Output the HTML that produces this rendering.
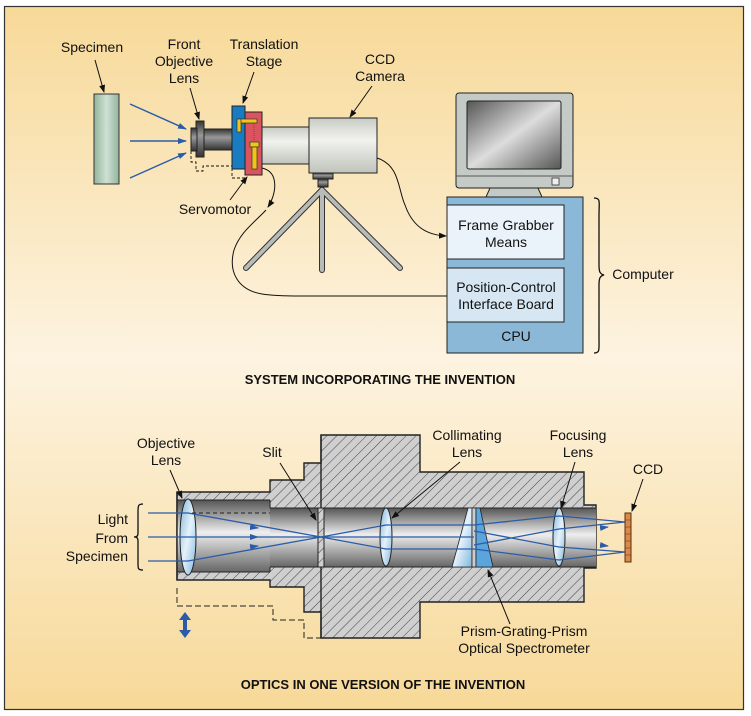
<!DOCTYPE html>
<html><head><meta charset="utf-8"><style>
html,body{margin:0;padding:0;background:#fff;}
svg{display:block;font-family:"Liberation Sans",sans-serif;}
</style></head><body>
<svg width="751" height="716" viewBox="0 0 751 716" xmlns="http://www.w3.org/2000/svg">
<defs>
<linearGradient id="bg" x1="0" y1="0" x2="0" y2="1">
<stop offset="0" stop-color="#f7d998"/><stop offset="0.5" stop-color="#fdf3e0"/><stop offset="1" stop-color="#f7d998"/>
</linearGradient>
<linearGradient id="spec" x1="0" y1="0" x2="1" y2="0">
<stop offset="0" stop-color="#93b59c"/><stop offset="0.5" stop-color="#cfe0d4"/><stop offset="1" stop-color="#93b59c"/>
</linearGradient>
<linearGradient id="metal" x1="0" y1="0" x2="0" y2="1">
<stop offset="0" stop-color="#555"/><stop offset="0.45" stop-color="#eee"/><stop offset="1" stop-color="#666"/>
</linearGradient>
<linearGradient id="dark" x1="0" y1="0" x2="0" y2="1">
<stop offset="0" stop-color="#333"/><stop offset="0.4" stop-color="#999"/><stop offset="1" stop-color="#333"/>
</linearGradient>
<linearGradient id="light" x1="0" y1="0" x2="0" y2="1">
<stop offset="0" stop-color="#c8ccc4"/><stop offset="0.4" stop-color="#f2f2ee"/><stop offset="1" stop-color="#c0c4bc"/>
</linearGradient>
<linearGradient id="screen" x1="0" y1="0" x2="1" y2="1">
<stop offset="0" stop-color="#555"/><stop offset="0.5" stop-color="#ddd"/><stop offset="1" stop-color="#555"/>
</linearGradient>
<linearGradient id="lens" x1="0" y1="0" x2="1" y2="1">
<stop offset="0" stop-color="#7fb6dc"/><stop offset="0.5" stop-color="#e6f2fb"/><stop offset="1" stop-color="#7fb6dc"/>
</linearGradient>
<pattern id="hatch" width="7" height="7" patternUnits="userSpaceOnUse" patternTransform="rotate(45)">
<rect width="7" height="7" fill="#cfcfcf"/><line x1="0" y1="0" x2="0" y2="7" stroke="#444" stroke-width="1"/>
</pattern>
<marker id="ah" markerWidth="8" markerHeight="8" refX="7" refY="4" orient="auto" markerUnits="userSpaceOnUse"><path d="M0,1 L8,4 L0,7 z" fill="#111"/></marker>
<marker id="bh" markerWidth="9" markerHeight="8" refX="8" refY="4" orient="auto" markerUnits="userSpaceOnUse"><path d="M0,1 L9,4 L0,7 z" fill="#2b5ca8"/></marker>
</defs>
<rect x="4.5" y="6.5" width="739" height="703" fill="url(#bg)" stroke="#333" stroke-width="1.2"/>

<g font-size="14" fill="#111" text-anchor="middle">
<text x="92" y="52">Specimen</text>
<text x="184" y="49">Front</text><text x="184" y="66">Objective</text><text x="184" y="83">Lens</text>
<text x="264" y="49">Translation</text><text x="264" y="66">Stage</text>
<text x="380" y="64">CCD</text><text x="380" y="81">Camera</text>
<text x="215" y="214">Servomotor</text>
</g>
<g stroke="#111" stroke-width="1" fill="none" marker-end="url(#ah)">
<line x1="95" y1="60" x2="104" y2="92"/>
<line x1="190" y1="88" x2="199" y2="119"/>
<line x1="254" y1="72" x2="243" y2="103"/>
<line x1="372" y1="86" x2="350" y2="117"/>
<line x1="230" y1="200" x2="247" y2="177"/>
</g>
<rect x="94" y="94" width="25" height="90" fill="url(#spec)" stroke="#333"/>
<g stroke="#2b5ca8" stroke-width="1.5" marker-end="url(#bh)">
<line x1="130" y1="104" x2="186" y2="129"/>
<line x1="130" y1="141" x2="186" y2="141"/>
<line x1="130" y1="178" x2="186" y2="153"/>
</g>
<g stroke="#111" stroke-width="0.9" fill="none" stroke-dasharray="3,2">
<path d="M191,151 V162 H196 V171 H203 V166 H233"/>
<path d="M203,143 H232"/>
<path d="M232,168 V178 H245"/>
</g>
<rect x="203" y="129" width="30" height="21" fill="url(#dark)" stroke="#222"/>
<rect x="196" y="121" width="8" height="36" fill="url(#dark)" stroke="#222"/>
<rect x="191" y="128" width="6" height="23" fill="url(#dark)" stroke="#222"/>
<rect x="261" y="127" width="50" height="37" fill="url(#light)" stroke="#222"/>
<rect x="232" y="106" width="13" height="63" fill="#1a7cc0" stroke="#222"/>
<rect x="245" y="112" width="17" height="63" fill="#d9545f" stroke="#222"/>
<g fill="#f2c417" stroke="#333" stroke-width="0.7">
<rect x="237" y="119" width="20" height="4"/><rect x="237" y="119" width="4" height="13"/>
<rect x="250" y="142" width="9" height="5"/><rect x="252" y="147" width="5" height="22"/>
</g>
<line x1="254" y1="123" x2="254" y2="142" stroke="#555" stroke-dasharray="1,1"/>
<rect x="309" y="118" width="68" height="55" fill="url(#light)" stroke="#222"/>
<rect x="313" y="173" width="20" height="6" fill="url(#dark)" stroke="#222"/>
<rect x="318" y="179" width="10" height="8" fill="url(#dark)" stroke="#222"/>
<g stroke="#333" stroke-width="6" stroke-linecap="round">
<line x1="322" y1="190" x2="246" y2="268"/><line x1="322" y1="190" x2="322" y2="270"/><line x1="322" y1="190" x2="400" y2="268"/>
</g>
<g stroke="#b8bcb8" stroke-width="4" stroke-linecap="round">
<line x1="322" y1="190" x2="246" y2="268"/><line x1="322" y1="190" x2="322" y2="270"/><line x1="322" y1="190" x2="400" y2="268"/>
</g>
<path d="M377,158 C400,165 398,190 405,205 C412,225 425,235 446,236" fill="none" stroke="#111" stroke-width="1" marker-end="url(#ah)"/>
<path d="M262,168 C280,172 276,195 268,207" fill="none" stroke="#111" stroke-width="1" marker-end="url(#ah)"/>
<path d="M266,210 C255,222 240,232 234,250 C228,272 238,290 262,294 C275,296 290,296 300,296 L447,296" fill="none" stroke="#111" stroke-width="1"/>
<path d="M490,188 L538,188 L542,197 L486,197 Z" fill="#c4cbc6" stroke="#222"/>
<rect x="456" y="93" width="117" height="95" rx="3" fill="#c4cbc6" stroke="#222"/>
<rect x="467" y="101" width="94" height="68" rx="2" fill="url(#screen)" stroke="#222"/>
<line x1="456" y1="176" x2="573" y2="176" stroke="#555"/>
<rect x="552" y="178" width="7" height="7" fill="#eee" stroke="#333" stroke-width="0.8"/>
<rect x="447" y="197" width="136" height="156" fill="#8ab8d6" stroke="#222"/>
<rect x="447" y="205" width="117" height="54" fill="#eaf3fa" stroke="#222"/>
<rect x="447" y="268" width="117" height="54" fill="#d6e7f3" stroke="#222"/>
<g font-size="14" fill="#111" text-anchor="middle">
<text x="506" y="230">Frame Grabber</text><text x="506" y="247">Means</text>
<text x="506" y="292">Position-Control</text><text x="506" y="309">Interface Board</text>
<text x="516" y="341">CPU</text>
<text x="643" y="279">Computer</text>
</g>
<path d="M594,198 C601,198 599,202 599,215 L599,265 C599,272 600,274 604,275 C600,276 599,278 599,285 L599,338 C599,350 600,353 594,353" fill="none" stroke="#111" stroke-width="1.3"/>
<text x="380" y="384" font-size="13" font-weight="bold" text-anchor="middle" fill="#111">SYSTEM INCORPORATING THE INVENTION</text>

<path d="M177,492 H270 V480 H304 V463 H321 V435 H420 V472 H584 V505 H596 V568 H584 V602 H420 V638 H321 V612 H304 V587 H270 V580 H177 Z" fill="url(#hatch)" stroke="#222" stroke-width="1.4"/>
<line x1="321" y1="435" x2="321" y2="638" stroke="#222" stroke-width="1.4"/>
<rect x="177" y="500" width="93" height="72" fill="url(#metal)"/>
<rect x="270" y="508" width="48" height="59" fill="url(#metal)"/>
<rect x="324" y="508" width="272" height="59" fill="url(#metal)"/>
<line x1="177" y1="500" x2="270" y2="500" stroke="#222"/><line x1="177" y1="572" x2="270" y2="572" stroke="#222"/>
<line x1="270" y1="500" x2="270" y2="508" stroke="#222"/><line x1="270" y1="572" x2="270" y2="567" stroke="#222"/>
<line x1="270" y1="508" x2="596" y2="508" stroke="#222"/><line x1="270" y1="567" x2="596" y2="567" stroke="#222"/>
<rect x="318" y="508" width="6" height="59" fill="url(#hatch)" stroke="#222"/>
<line x1="177" y1="492" x2="177" y2="580" stroke="#222" stroke-width="1.4"/>
<path d="M468,508 L472,508 L472,567 L452,567 Z" fill="url(#lens)" stroke="#222" stroke-width="0.8"/>
<rect x="472" y="508" width="4" height="59" fill="#ccc" stroke="#222" stroke-width="0.8"/>
<path d="M476,508 L480,508 L493,567 L476,567 Z" fill="#5aa6dc" stroke="#222" stroke-width="0.8"/>
<ellipse cx="188" cy="537" rx="8" ry="38" fill="url(#lens)" stroke="#222"/>
<ellipse cx="386" cy="537" rx="6" ry="29" fill="url(#lens)" stroke="#222"/>
<ellipse cx="559" cy="537" rx="6" ry="29" fill="url(#lens)" stroke="#222"/>
<g stroke="#2b5ca8" stroke-width="1.3" fill="none">
<path d="M148,513 H188 L321,537 L386,549 H474"/>
<path d="M148,537 H321 H474"/>
<path d="M148,561 H188 L321,537 L386,525 H474"/>
<path d="M474,525 L559,516 L625,522"/>
<path d="M474,531 L559,547 L625,552"/>
<path d="M474,545 L559,529 L625,522"/>
<path d="M474,549 L559,560 L625,552"/>
</g>
<g stroke="#2b5ca8" stroke-width="1.2" marker-end="url(#bh)">
<line x1="250" y1="527" x2="258" y2="528"/><line x1="250" y1="537" x2="258" y2="537"/><line x1="250" y1="547" x2="258" y2="546"/>
<line x1="600" y1="528" x2="608" y2="527"/><line x1="600" y1="545" x2="608" y2="546"/>
</g>
<line x1="192" y1="513" x2="270" y2="513" stroke="#222" stroke-dasharray="4,3"/>
<path d="M177,588 V606 H273 V620 H304 V638 H321" fill="none" stroke="#222" stroke-width="1" stroke-dasharray="6,3"/>
<path d="M185,612 L191,620 H187 V630 H191 L185,638 L179,630 H183 V620 H179 Z" fill="#2b5ca8"/>
<rect x="625" y="513" width="6" height="49" fill="#d98a4a" stroke="#5a2e10"/>
<g stroke="#7a3a10" stroke-width="0.6"><line x1="625" y1="520" x2="631" y2="520"/><line x1="625" y1="527" x2="631" y2="527"/><line x1="625" y1="534" x2="631" y2="534"/><line x1="625" y1="541" x2="631" y2="541"/><line x1="625" y1="548" x2="631" y2="548"/><line x1="625" y1="555" x2="631" y2="555"/></g>
<g font-size="14" fill="#111" text-anchor="middle">
<text x="166" y="448">Objective</text><text x="166" y="465">Lens</text>
<text x="272" y="457">Slit</text>
<text x="467" y="440">Collimating</text><text x="467" y="457">Lens</text>
<text x="578" y="440">Focusing</text><text x="578" y="457">Lens</text>
<text x="648" y="474">CCD</text>
<text x="524" y="636">Prism-Grating-Prism</text><text x="524" y="653">Optical Spectrometer</text>
</g>
<g font-size="14" fill="#111" text-anchor="end">
<text x="128" y="524">Light</text><text x="128" y="543">From</text><text x="128" y="561">Specimen</text>
</g>
<path d="M143,504 C138,504 138,506 138,512 L138,533 C138,536 137,537 134,537 C137,537 138,538 138,541 L138,563 C138,569 138,570 143,570" fill="none" stroke="#111" stroke-width="1.3"/>
<g stroke="#111" stroke-width="1" fill="none" marker-end="url(#ah)">
<line x1="170" y1="470" x2="182" y2="498"/>
<line x1="280" y1="463" x2="316" y2="520"/>
<line x1="460" y1="462" x2="392" y2="518"/>
<line x1="575" y1="462" x2="561" y2="508"/>
<line x1="643" y1="479" x2="632" y2="511"/>
<line x1="510" y1="624" x2="488" y2="570"/>
</g>
<text x="383" y="689" font-size="13" font-weight="bold" text-anchor="middle" fill="#111">OPTICS IN ONE VERSION OF THE INVENTION</text>
</svg>
</body></html>
